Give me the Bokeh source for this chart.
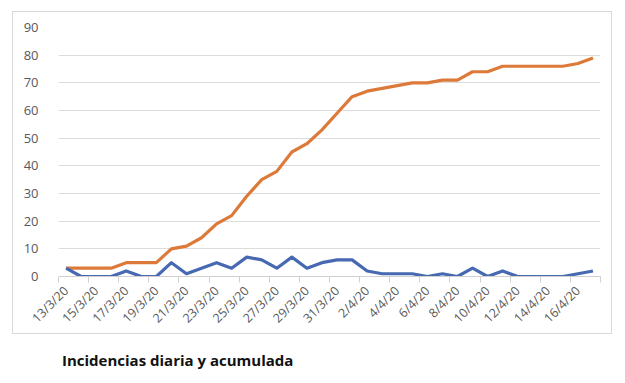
import math
from bokeh.plotting import figure
from bokeh.layouts import column
from bokeh.models import ColumnDataSource, FixedTicker, Range1d, Div
from bokeh.embed import file_html
from bokeh.resources import INLINE

dates = ["13/3/20", "14/3/20", "15/3/20", "16/3/20", "17/3/20", "18/3/20", "19/3/20",
         "20/3/20", "21/3/20", "22/3/20", "23/3/20", "24/3/20", "25/3/20", "26/3/20",
         "27/3/20", "28/3/20", "29/3/20", "30/3/20", "31/3/20", "1/4/20", "2/4/20",
         "3/4/20", "4/4/20", "5/4/20", "6/4/20", "7/4/20", "8/4/20", "9/4/20",
         "10/4/20", "11/4/20", "12/4/20", "13/4/20", "14/4/20", "15/4/20", "16/4/20",
         "17/4/20"]
daily = [3, 0, 0, 0, 2, 0, 0, 5, 1, 3, 5, 3, 7, 6, 3, 7, 3, 5, 6, 6, 2, 1, 1, 1, 0, 1,
         0, 3, 0, 2, 0, 0, 0, 0, 1, 2]
cumulative = [3, 3, 3, 3, 5, 5, 5, 10, 11, 14, 19, 22, 29, 35, 38, 45, 48, 53, 59, 65,
              67, 68, 69, 70, 70, 71, 71, 74, 74, 76, 76, 76, 76, 76, 77, 79]
y_ticks = [0, 10, 20, 30, 40, 50, 60, 70, 80, 90]
title_text = "Incidencias diaria y acumulada"

idx = list(range(len(dates)))
src = ColumnDataSource(dict(x=idx, daily=daily, cum=cumulative))

# chart box (page px): left 12, top 11, right 610, bottom 332
BL, BT, BR, BB = 12, 11, 610, 332
FL, FT, FR, FB = 57, 26, 597, 277  # plot frame (page px)
W, H = BR - BL, BB - BT
p = figure(width=W, height=H, output_backend="svg", toolbar_location=None,
           x_range=Range1d(-0.5, len(dates) - 0.5), y_range=Range1d(0, 90),
           min_border_left=FL - BL, min_border_right=BR - FR, min_border_top=FT - BT,
           min_border_bottom=BB - FB, margin=(BT, 0, 0, BL),
           styles={"border": "1px solid #d9d9d9", "box-sizing": "content-box"})
p.outline_line_color = None
p.background_fill_color = "white"
p.border_fill_color = "white"

p.line("x", "cum", source=src, line_color="#DD7A3A", line_width=3.2, line_join="round")
p.line("x", "daily", source=src, line_color="#4769B2", line_width=3.2, line_join="round")

# y axis
p.yaxis.ticker = FixedTicker(ticks=y_ticks)
p.yaxis.axis_line_color = None
p.yaxis.major_tick_line_color = None
p.yaxis.minor_tick_line_color = None
p.yaxis.major_label_text_font = "Open Sans"
p.yaxis.major_label_text_font_size = "13px"
p.yaxis.major_label_text_color = "#595959"
p.yaxis.major_label_standoff = 14

p.ygrid.ticker = FixedTicker(ticks=y_ticks[1:])
p.ygrid.grid_line_color = "#dcdcdc"
p.ygrid.grid_line_width = 1.2
p.xgrid.grid_line_color = None

# x axis: labels on every other category, ticks between categories
label_idx = idx[::2]
minor = [i - 0.5 for i in range(0, len(dates) + 1, 2)]
p.xaxis.ticker = FixedTicker(ticks=label_idx, minor_ticks=minor)
p.xaxis.major_label_overrides = {i: dates[i] for i in label_idx}
p.xaxis.major_label_orientation = math.pi / 4
p.xaxis.major_tick_line_color = None
p.xaxis.minor_tick_line_color = "#d0d0d0"
p.xaxis.minor_tick_in = 0
p.xaxis.minor_tick_out = 6
p.xaxis.axis_line_color = "#d0d0d0"
p.xaxis.axis_line_width = 1.2
p.xaxis.major_label_text_font = "Open Sans"
p.xaxis.major_label_text_font_size = "12.5px"
p.xaxis.major_label_text_color = "#595959"
p.xaxis.major_label_standoff = 6

title = Div(text=title_text, margin=(16, 0, 0, 62),
            styles={"font-family": "Open Sans", "font-weight": "bold",
                    "font-size": "15px", "line-height": "20px", "color": "#111111",
                    "white-space": "nowrap"})

layout = column(p, title, spacing=0)
open("out.html", "w").write(file_html(layout, INLINE))
